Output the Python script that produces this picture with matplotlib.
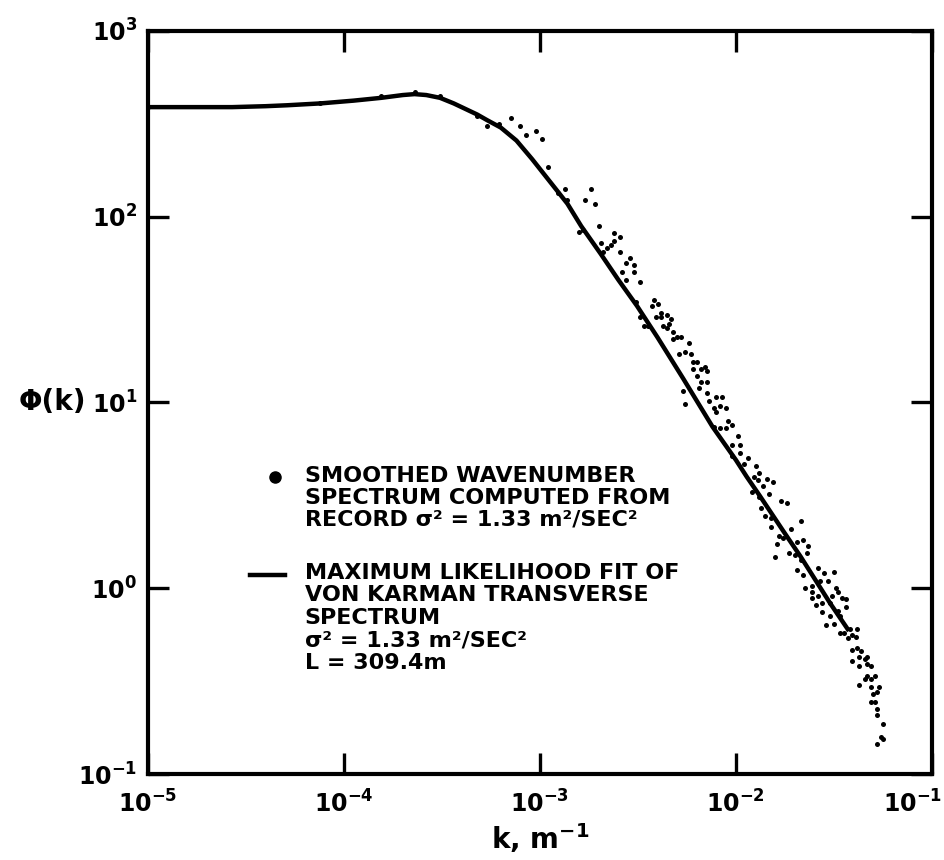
import numpy as np
import matplotlib
matplotlib.use("Agg")
import matplotlib.pyplot as plt
import matplotlib.transforms as mtransforms

# smoothed wavenumber spectrum (log10 k, log10 phi)
log_k_pts = [-5.00, -4.12, -3.81, -3.64, -3.51, -3.32, -3.27, -3.21, -3.15, -3.10,
             -3.07, -3.02, -2.99, -2.96, -2.91, -2.87, -2.86, -2.74, -2.77, -2.72,
             -2.70, -2.80, -2.78, -2.69, -2.66, -2.68, -2.62, -2.59, -2.62, -2.64,
             -2.59, -2.54, -2.56, -2.52, -2.58, -2.52, -2.56, -2.49, -2.51, -2.42,
             -2.43, -2.40, -2.49, -2.47, -2.45, -2.41, -2.38, -2.38, -2.35, -2.33,
             -2.37, -2.34, -2.35, -2.32, -2.30, -2.28, -2.32, -2.24, -2.26, -2.23,
             -2.29, -2.22, -2.20, -2.22, -2.18, -2.16, -2.15, -2.20, -2.18, -2.15,
             -2.19, -2.15, -2.27, -2.10, -2.07, -2.14, -2.26, -2.08, -2.05, -2.11,
             -2.10, -2.04, -2.02, -2.05, -2.11, -1.99, -2.02, -1.98, -1.98, -2.02,
             -1.94, -1.96, -1.90, -1.88, -1.91, -1.84, -2.08, -1.89, -1.81, -1.86,
             -1.92, -1.83, -1.88, -1.77, -1.74, -1.87, -1.85, -1.82, -1.67, -1.82,
             -1.72, -1.78, -1.76, -1.66, -1.69, -1.79, -1.63, -1.73, -1.64, -1.70,
             -1.80, -1.67, -1.69, -1.58, -1.66, -1.55, -1.50, -1.57, -1.53, -1.65,
             -1.61, -1.49, -1.61, -1.58, -1.51, -1.48, -1.46, -1.61, -1.56, -1.59,
             -1.52, -1.44, -1.44, -1.48, -1.56, -1.52, -1.47, -1.50, -1.54, -1.42,
             -1.38, -1.47, -1.45, -1.41, -1.39, -1.43, -1.41, -1.38, -1.36, -1.37,
             -1.34, -1.41, -1.33, -1.37, -1.31, -1.33, -1.29, -1.34, -1.31, -1.37,
             -1.31, -1.27, -1.30, -1.28, -1.33, -1.31, -1.29, -1.28, -1.28, -1.25,
             -1.26, -1.25, -1.28]
log_phi_pts = [2.59, 2.61, 2.65, 2.67, 2.65, 2.54, 2.49, 2.50, 2.53, 2.49,
               2.44, 2.46, 2.42, 2.27, 2.13, 2.15, 2.09, 2.15, 2.09, 2.07,
               1.95, 1.92, 1.93, 1.86, 1.83, 1.81, 1.91, 1.89, 1.87, 1.85,
               1.81, 1.78, 1.75, 1.74, 1.70, 1.70, 1.66, 1.65, 1.54, 1.55,
               1.52, 1.53, 1.46, 1.41, 1.41, 1.46, 1.48, 1.46, 1.47, 1.45,
               1.41, 1.42, 1.40, 1.38, 1.35, 1.35, 1.34, 1.32, 1.27, 1.26,
               1.26, 1.22, 1.22, 1.18, 1.18, 1.19, 1.17, 1.14, 1.11, 1.11,
               1.08, 1.05, 1.06, 1.03, 1.03, 1.01, 0.99, 0.98, 0.97, 0.97,
               0.95, 0.90, 0.88, 0.86, 0.87, 0.82, 0.77, 0.77, 0.73, 0.71,
               0.70, 0.67, 0.66, 0.62, 0.60, 0.59, 0.86, 0.58, 0.57, 0.55,
               0.52, 0.51, 0.49, 0.47, 0.46, 0.43, 0.39, 0.38, 0.36, 0.33,
               0.32, 0.28, 0.27, 0.26, 0.25, 0.24, 0.23, 0.19, 0.19, 0.18,
               0.17, 0.15, 0.10, 0.11, 0.07, 0.08, 0.09, 0.04, 0.04, 0.00,
               0.01, 0.00, -0.02, -0.04, -0.04, -0.02, -0.05, -0.05, -0.08, -0.09,
               -0.08, -0.06, -0.10, -0.12, -0.13, -0.15, -0.15, -0.19, -0.20, -0.22,
               -0.22, -0.24, -0.24, -0.25, -0.26, -0.27, -0.33, -0.32, -0.34, -0.37,
               -0.38, -0.39, -0.41, -0.42, -0.42, -0.47, -0.47, -0.49, -0.49, -0.52,
               -0.53, -0.53, -0.57, -0.56, -0.37, -0.61, -0.61, -0.65, -0.68, -0.73,
               -0.80, -0.81, -0.84]

# von Karman fit curve (log10 k, log10 phi)
log_k_fit = [-5.00, -4.80, -4.57, -4.40, -4.29, -4.12, -3.95, -3.81, -3.70, -3.64,
             -3.58, -3.51, -3.44, -3.37, -3.32, -3.27, -3.20, -3.12, -3.04, -2.95,
             -2.86, -2.79, -2.69, -2.60, -2.505, -2.40, -2.27, -2.12, -2.00, -1.945,
             -1.88, -1.76, -1.67, -1.61, -1.52, -1.43]
log_phi_fit = [2.59, 2.59, 2.59, 2.595, 2.60, 2.61, 2.625, 2.64, 2.655, 2.66,
               2.655, 2.64, 2.61, 2.575, 2.55, 2.52, 2.48, 2.41, 2.31, 2.19,
               2.07, 1.95, 1.80, 1.66, 1.52, 1.35, 1.13, 0.87, 0.69, 0.60,
               0.50, 0.31, 0.17, 0.07, -0.08, -0.22]

xticks = [1e-5, 1e-4, 1e-3, 1e-2, 1e-1]
xtick_labels = [r'$\mathbf{10^{-5}}$', r'$\mathbf{10^{-4}}$', r'$\mathbf{10^{-3}}$',
                r'$\mathbf{10^{-2}}$', r'$\mathbf{10^{-1}}$']
yticks = [1e-1, 1e0, 1e1, 1e2, 1e3]
ytick_labels = [r'$\mathbf{10^{-1}}$', r'$\mathbf{10^{0}}$', r'$\mathbf{10^{1}}$',
                r'$\mathbf{10^{2}}$', r'$\mathbf{10^{3}}$']

legend_dot_text = ['SMOOTHED WAVENUMBER', 'SPECTRUM COMPUTED FROM',
                   'RECORD σ² = 1.33 m²/SEC²']
legend_line_text = ['MAXIMUM LIKELIHOOD FIT OF', 'VON KARMAN TRANSVERSE',
                    'SPECTRUM', 'σ² = 1.33 m²/SEC²', 'L = 309.4m']

plt.rcParams['font.family'] = ['DejaVu Sans']
plt.rcParams['font.weight'] = 'bold'

fig = plt.figure(figsize=(9.45, 8.6), dpi=100)
ax = fig.add_axes([0.1566, 0.100, 0.8296, 0.864])

k_pts = 10 ** np.array(log_k_pts)
phi_pts = 10 ** np.array(log_phi_pts)
k_fit = 10 ** np.array(log_k_fit)
phi_fit = 10 ** np.array(log_phi_fit)

ax.plot(k_fit, phi_fit, '-', color='black', lw=3.2, solid_joinstyle='round')
ax.plot(k_pts, phi_pts, 'o', color='black', ms=3.6, mew=0)

ax.set_xscale('log')
ax.set_yscale('log')
ax.set_xlim(1e-5, 1e-1)
ax.set_ylim(1e-1, 1e3)
ax.set_xticks(xticks)
ax.set_xticklabels(xtick_labels, fontsize=17)
ax.set_yticks(yticks)
ax.set_yticklabels(ytick_labels, fontsize=17)
ax.minorticks_off()
ax.tick_params(direction='in', length=15, width=2.4, top=True, right=True)
ax.tick_params(axis='x', pad=12)
ax.tick_params(axis='y', pad=8)
for s in ax.spines.values():
    s.set_linewidth(3)

# keep the last x label inside the figure
last = ax.get_xticklabels()[-1]
last.set_transform(last.get_transform() +
                   mtransforms.ScaledTranslation(-14 / 72, 0, fig.dpi_scale_trans))

ax.set_xlabel(r'k, m$^{\mathbf{-1}}$', fontsize=20, fontweight='bold', labelpad=2)
ax.set_ylabel('Φ(k)', fontsize=20, fontweight='bold', rotation=0, ha='center', va='center')
ax.yaxis.set_label_coords(-0.122, 0.5)

# legend drawn by hand
ax.plot([0.162], [0.400], 'o', color='black', ms=8, transform=ax.transAxes)
ax.plot([0.130, 0.175], [0.268, 0.268], '-', color='black', lw=3.2, transform=ax.transAxes)
for i, t in enumerate(legend_dot_text):
    ax.text(0.200, 0.401 - i * 0.0295, t, transform=ax.transAxes, fontsize=16,
            fontweight='bold', va='center', ha='left')
for i, t in enumerate(legend_line_text):
    ax.text(0.200, 0.271 - i * 0.0305, t, transform=ax.transAxes, fontsize=16,
            fontweight='bold', va='center', ha='left')

fig.savefig('out.png', dpi=100)
